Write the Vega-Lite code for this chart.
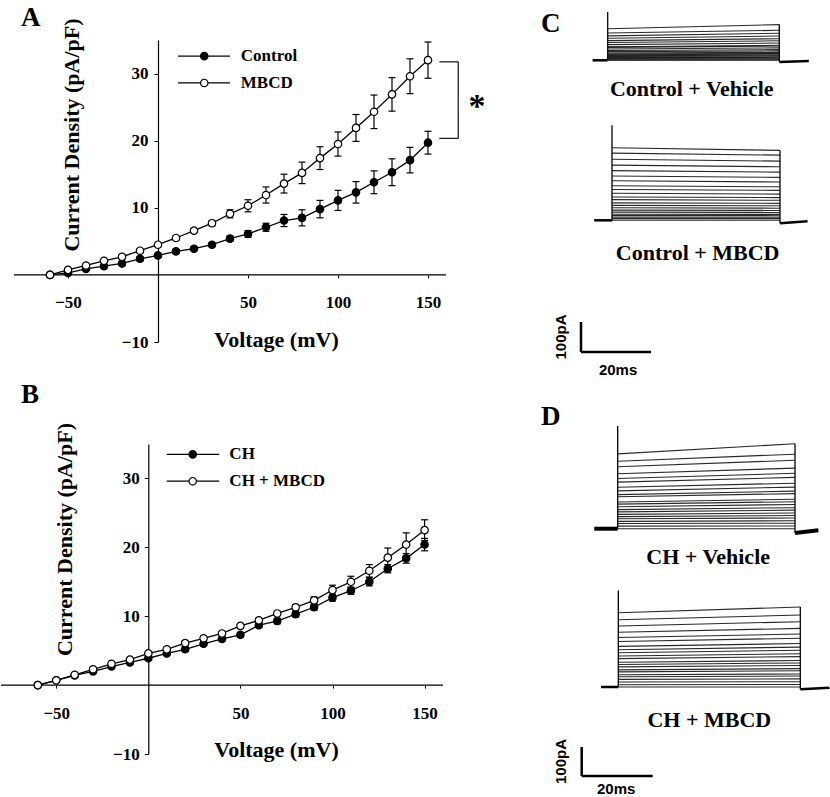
{
"$schema": "https://vega.github.io/schema/vega-lite/v6.json",
"padding": {"left": 0, "top": 3, "right": 0, "bottom": 0},
"background": "white",
"bounds": "flush",
"spacing": 540,
"config": {"view": {"stroke": null}, "axis": {"grid": false}},
"datasets": {
"iv": [
{"panel":"A","group":"Control","v":-60,"i":0,"se":0.1},{"panel":"A","group":"Control","v":-50,"i":0.3,"se":0.2},{"panel":"A","group":"Control","v":-40,"i":0.9,"se":0.2},{"panel":"A","group":"Control","v":-30,"i":1.3,"se":0.2},{"panel":"A","group":"Control","v":-20,"i":1.7,"se":0.3},{"panel":"A","group":"Control","v":-10,"i":2.4,"se":0.3},{"panel":"A","group":"Control","v":0,"i":2.9,"se":0.3},{"panel":"A","group":"Control","v":10,"i":3.5,"se":0.3},{"panel":"A","group":"Control","v":20,"i":3.9,"se":0.3},{"panel":"A","group":"Control","v":30,"i":4.5,"se":0.3},{"panel":"A","group":"Control","v":40,"i":5.4,"se":0.4},{"panel":"A","group":"Control","v":50,"i":6.1,"se":0.5},{"panel":"A","group":"Control","v":60,"i":7.1,"se":0.6},{"panel":"A","group":"Control","v":70,"i":8.1,"se":0.9},{"panel":"A","group":"Control","v":80,"i":8.5,"se":1.2},{"panel":"A","group":"Control","v":90,"i":9.8,"se":1.3},{"panel":"A","group":"Control","v":100,"i":11.1,"se":1.5},{"panel":"A","group":"Control","v":110,"i":12.3,"se":1.6},{"panel":"A","group":"Control","v":120,"i":13.8,"se":1.7},{"panel":"A","group":"Control","v":130,"i":15.3,"se":2.0},{"panel":"A","group":"Control","v":140,"i":17.1,"se":1.9},{"panel":"A","group":"Control","v":150,"i":19.7,"se":1.7},
{"panel":"A","group":"MBCD","v":-60,"i":0,"se":0.1},{"panel":"A","group":"MBCD","v":-50,"i":0.75,"se":0.2},{"panel":"A","group":"MBCD","v":-40,"i":1.4,"se":0.2},{"panel":"A","group":"MBCD","v":-30,"i":2.1,"se":0.2},{"panel":"A","group":"MBCD","v":-20,"i":2.7,"se":0.3},{"panel":"A","group":"MBCD","v":-10,"i":3.6,"se":0.3},{"panel":"A","group":"MBCD","v":0,"i":4.5,"se":0.3},{"panel":"A","group":"MBCD","v":10,"i":5.5,"se":0.3},{"panel":"A","group":"MBCD","v":20,"i":6.6,"se":0.3},{"panel":"A","group":"MBCD","v":30,"i":7.7,"se":0.4},{"panel":"A","group":"MBCD","v":40,"i":9.1,"se":0.6},{"panel":"A","group":"MBCD","v":50,"i":10.3,"se":0.9},{"panel":"A","group":"MBCD","v":60,"i":11.9,"se":1.2},{"panel":"A","group":"MBCD","v":70,"i":13.6,"se":1.4},{"panel":"A","group":"MBCD","v":80,"i":15.2,"se":1.6},{"panel":"A","group":"MBCD","v":90,"i":17.4,"se":1.7},{"panel":"A","group":"MBCD","v":100,"i":19.5,"se":1.8},{"panel":"A","group":"MBCD","v":110,"i":21.9,"se":2.0},{"panel":"A","group":"MBCD","v":120,"i":24.3,"se":2.5},{"panel":"A","group":"MBCD","v":130,"i":26.9,"se":2.5},{"panel":"A","group":"MBCD","v":140,"i":29.6,"se":2.6},{"panel":"A","group":"MBCD","v":150,"i":32.0,"se":2.7},
{"panel":"B","group":"CH","v":-60,"i":0,"se":0.1},{"panel":"B","group":"CH","v":-50,"i":0.7,"se":0.2},{"panel":"B","group":"CH","v":-40,"i":1.4,"se":0.2},{"panel":"B","group":"CH","v":-30,"i":2.0,"se":0.2},{"panel":"B","group":"CH","v":-20,"i":2.7,"se":0.2},{"panel":"B","group":"CH","v":-10,"i":3.3,"se":0.3},{"panel":"B","group":"CH","v":0,"i":3.9,"se":0.3},{"panel":"B","group":"CH","v":10,"i":4.6,"se":0.3},{"panel":"B","group":"CH","v":20,"i":5.2,"se":0.3},{"panel":"B","group":"CH","v":30,"i":6.0,"se":0.3},{"panel":"B","group":"CH","v":40,"i":6.7,"se":0.3},{"panel":"B","group":"CH","v":50,"i":7.3,"se":0.3},{"panel":"B","group":"CH","v":60,"i":8.7,"se":0.3},{"panel":"B","group":"CH","v":70,"i":9.3,"se":0.4},{"panel":"B","group":"CH","v":80,"i":10.3,"se":0.4},{"panel":"B","group":"CH","v":90,"i":11.3,"se":0.4},{"panel":"B","group":"CH","v":100,"i":12.7,"se":0.5},{"panel":"B","group":"CH","v":110,"i":13.7,"se":0.5},{"panel":"B","group":"CH","v":120,"i":15.0,"se":0.6},{"panel":"B","group":"CH","v":130,"i":16.9,"se":0.6},{"panel":"B","group":"CH","v":140,"i":18.4,"se":0.7},{"panel":"B","group":"CH","v":150,"i":20.4,"se":0.9},
{"panel":"B","group":"CH + MBCD","v":-60,"i":0,"se":0.1},{"panel":"B","group":"CH + MBCD","v":-50,"i":0.7,"se":0.2},{"panel":"B","group":"CH + MBCD","v":-40,"i":1.5,"se":0.2},{"panel":"B","group":"CH + MBCD","v":-30,"i":2.3,"se":0.2},{"panel":"B","group":"CH + MBCD","v":-20,"i":3.1,"se":0.2},{"panel":"B","group":"CH + MBCD","v":-10,"i":3.7,"se":0.2},{"panel":"B","group":"CH + MBCD","v":0,"i":4.6,"se":0.3},{"panel":"B","group":"CH + MBCD","v":10,"i":5.2,"se":0.3},{"panel":"B","group":"CH + MBCD","v":20,"i":6.1,"se":0.3},{"panel":"B","group":"CH + MBCD","v":30,"i":6.8,"se":0.3},{"panel":"B","group":"CH + MBCD","v":40,"i":7.5,"se":0.3},{"panel":"B","group":"CH + MBCD","v":50,"i":8.6,"se":0.3},{"panel":"B","group":"CH + MBCD","v":60,"i":9.4,"se":0.3},{"panel":"B","group":"CH + MBCD","v":70,"i":10.4,"se":0.3},{"panel":"B","group":"CH + MBCD","v":80,"i":11.3,"se":0.4},{"panel":"B","group":"CH + MBCD","v":90,"i":12.3,"se":0.5},{"panel":"B","group":"CH + MBCD","v":100,"i":13.8,"se":0.7},{"panel":"B","group":"CH + MBCD","v":110,"i":15.0,"se":0.8},{"panel":"B","group":"CH + MBCD","v":120,"i":16.6,"se":0.9},{"panel":"B","group":"CH + MBCD","v":130,"i":18.5,"se":1.4},{"panel":"B","group":"CH + MBCD","v":140,"i":20.4,"se":1.7},{"panel":"B","group":"CH + MBCD","v":150,"i":22.5,"se":1.5}
],
"traces": [
{"panel":"C1","v":-60,"i0":0,"i1":0},{"panel":"C1","v":-50,"i0":1.6,"i1":1.8},{"panel":"C1","v":-40,"i0":4.8,"i1":5.3},{"panel":"C1","v":-30,"i0":6.9,"i1":7.6},{"panel":"C1","v":-20,"i0":9.1,"i1":10},{"panel":"C1","v":-10,"i0":12.8,"i1":14},{"panel":"C1","v":0,"i0":15.5,"i1":17},{"panel":"C1","v":10,"i0":18.7,"i1":20.5},{"panel":"C1","v":20,"i0":20.8,"i1":23},{"panel":"C1","v":30,"i0":24,"i1":26.5},{"panel":"C1","v":40,"i0":28.8,"i1":31.5},{"panel":"C1","v":50,"i0":32.5,"i1":35.5},{"panel":"C1","v":60,"i0":37.8,"i1":41.5},{"panel":"C1","v":70,"i0":43.2,"i1":47.5},{"panel":"C1","v":80,"i0":45.3,"i1":50},{"panel":"C1","v":90,"i0":52.2,"i1":57.5},{"panel":"C1","v":100,"i0":59.2,"i1":65},{"panel":"C1","v":110,"i0":65.6,"i1":72},{"panel":"C1","v":120,"i0":73.6,"i1":81},{"panel":"C1","v":130,"i0":81.6,"i1":90},{"panel":"C1","v":140,"i0":91.2,"i1":100},{"panel":"C1","v":150,"i0":105,"i1":119},
{"panel":"C2","v":-60,"i0":0,"i1":0},{"panel":"C2","v":-50,"i0":5.7,"i1":5.5},{"panel":"C2","v":-40,"i0":10.6,"i1":10.3},{"panel":"C2","v":-30,"i0":15.9,"i1":15.4},{"panel":"C2","v":-20,"i0":20.4,"i1":19.8},{"panel":"C2","v":-10,"i0":27.2,"i1":26.4},{"panel":"C2","v":0,"i0":34,"i1":33},{"panel":"C2","v":10,"i0":41.6,"i1":40.4},{"panel":"C2","v":20,"i0":49.9,"i1":48.4},{"panel":"C2","v":30,"i0":58.2,"i1":56.5},{"panel":"C2","v":40,"i0":68.8,"i1":66.7},{"panel":"C2","v":50,"i0":77.9,"i1":75.6},{"panel":"C2","v":60,"i0":90,"i1":87.3},{"panel":"C2","v":70,"i0":102.9,"i1":99.8},{"panel":"C2","v":80,"i0":115,"i1":111.6},{"panel":"C2","v":90,"i0":131.6,"i1":127.7},{"panel":"C2","v":100,"i0":147.5,"i1":143},{"panel":"C2","v":110,"i0":165.6,"i1":160.6},{"panel":"C2","v":120,"i0":183.8,"i1":178.3},{"panel":"C2","v":130,"i0":203.4,"i1":197.3},{"panel":"C2","v":140,"i0":223.9,"i1":217.2},{"panel":"C2","v":150,"i0":242,"i1":233},
{"panel":"D1","v":-60,"i0":0,"i1":0},{"panel":"D1","v":-50,"i0":8.9,"i1":9.5},{"panel":"D1","v":-40,"i0":17.7,"i1":19},{"panel":"D1","v":-30,"i0":25.3,"i1":27.5},{"panel":"D1","v":-20,"i0":34.2,"i1":37},{"panel":"D1","v":-10,"i0":41.7,"i1":45.5},{"panel":"D1","v":0,"i0":49.3,"i1":54},{"panel":"D1","v":10,"i0":58.2,"i1":64},{"panel":"D1","v":20,"i0":65.8,"i1":72.5},{"panel":"D1","v":30,"i0":75.9,"i1":83.5},{"panel":"D1","v":40,"i0":84.7,"i1":93},{"panel":"D1","v":50,"i0":92.3,"i1":101.5},{"panel":"D1","v":60,"i0":110,"i1":121},{"panel":"D1","v":70,"i0":117.6,"i1":129.5},{"panel":"D1","v":80,"i0":130.3,"i1":143.5},{"panel":"D1","v":90,"i0":142.9,"i1":157},{"panel":"D1","v":100,"i0":160.6,"i1":177},{"panel":"D1","v":110,"i0":173.3,"i1":191},{"panel":"D1","v":120,"i0":189.7,"i1":209},{"panel":"D1","v":130,"i0":213.7,"i1":236},{"panel":"D1","v":140,"i0":232.7,"i1":257},{"panel":"D1","v":150,"i0":258,"i1":293},
{"panel":"D2","v":-60,"i0":0,"i1":0},{"panel":"D2","v":-50,"i0":8,"i1":8.5},{"panel":"D2","v":-40,"i0":17.1,"i1":18.3},{"panel":"D2","v":-30,"i0":26.2,"i1":28},{"panel":"D2","v":-20,"i0":35.3,"i1":37.8},{"panel":"D2","v":-10,"i0":42.1,"i1":45},{"panel":"D2","v":0,"i0":52.3,"i1":56},{"panel":"D2","v":10,"i0":59.2,"i1":63.3},{"panel":"D2","v":20,"i0":69.4,"i1":74.3},{"panel":"D2","v":30,"i0":77.4,"i1":82.8},{"panel":"D2","v":40,"i0":85.4,"i1":91.4},{"panel":"D2","v":50,"i0":97.9,"i1":104.8},{"panel":"D2","v":60,"i0":107,"i1":114.5},{"panel":"D2","v":70,"i0":118.3,"i1":126.6},{"panel":"D2","v":80,"i0":128.6,"i1":137.6},{"panel":"D2","v":90,"i0":140,"i1":149.8},{"panel":"D2","v":100,"i0":157,"i1":168},{"panel":"D2","v":110,"i0":170.7,"i1":182.6},{"panel":"D2","v":120,"i0":188.9,"i1":202.1},{"panel":"D2","v":130,"i0":210.5,"i1":225.2},{"panel":"D2","v":140,"i0":232.1,"i1":248.3},{"panel":"D2","v":150,"i0":256,"i1":276}
],
"edges": [
{"panel":"C1","kind":"hold","t":-4.4,"t2":0,"i":0,"i2":0},{"panel":"C1","kind":"on","t":0,"t2":0,"i":0,"i2":161},{"panel":"C1","kind":"off","t":50,"t2":50,"i":-6,"i2":119},{"panel":"C1","kind":"tail","t":50,"t2":58.6,"i":-6,"i2":-2},
{"panel":"C2","kind":"hold","t":-5.3,"t2":0,"i":0,"i2":0},{"panel":"C2","kind":"on","t":0,"t2":0,"i":0,"i2":317},{"panel":"C2","kind":"off","t":50,"t2":50,"i":-10,"i2":233},{"panel":"C2","kind":"tail","t":50,"t2":58.2,"i":-10,"i2":-3},
{"panel":"D1","kind":"hold","t":-6.6,"t2":0,"i":0,"i2":0},{"panel":"D1","kind":"on","t":0,"t2":0,"i":0,"i2":354},{"panel":"D1","kind":"off","t":50,"t2":50,"i":-15,"i2":293},{"panel":"D1","kind":"tail","t":50,"t2":56.6,"i":-15,"i2":-5},
{"panel":"D2","kind":"hold","t":-4.75,"t2":0,"i":0,"i2":0},{"panel":"D2","kind":"on","t":0,"t2":0,"i":0,"i2":333},{"panel":"D2","kind":"off","t":50,"t2":50,"i":-8,"i2":276},{"panel":"D2","kind":"tail","t":50,"t2":58,"i":-8,"i2":-3}
]
},
"hconcat": [
{"vconcat": [
{"width": 445, "height": 302,
"layer": [
{"data":{"name":"iv"},"transform":[{"filter":"datum.panel==='A'"}],
"mark":{"type":"line","color":"black","strokeWidth":1.3},
"encoding":{
"x":{"field":"v","type":"quantitative","title":"Voltage (mV)","scale":{"domain":[-87.22,160],"nice":false,"zero":false},
"axis":{"values":[-50,50,100,150],"offset":-67.1,"domain":false,"tickSize":3,"tickColor":"black","tickWidth":1,"labelPadding":17,"labelFlush":false,"labelFont":"Liberation Serif","labelFontWeight":"bold","labelFontSize":17,"labelColor":"black","titleFont":"Liberation Serif","titleFontWeight":"bold","titleFontSize":22,"titleColor":"black","titleX":275,"titleY":72,"titleBaseline":"alphabetic","titleAlign":"center","grid":false}},
"y":{"field":"i","type":"quantitative","title":"Current Density (pA/pF)","scale":{"domain":[-10,35],"nice":false,"zero":false},
"axis":{"values":[-10,10,20,30],"offset":-157,"domain":true,"domainColor":"black","domainWidth":1.2,"tickSize":4,"tickColor":"black","tickWidth":1,"labelPadding":6,"labelFlush":false,"labelFont":"Liberation Serif","labelFontWeight":"bold","labelFontSize":17,"labelColor":"black","titleFont":"Liberation Serif","titleFontWeight":"bold","titleFontSize":22,"titleColor":"black","titleX":-79.8,"titleY":94.5,"titleAngle":-90,"titleBaseline":"alphabetic","titleAlign":"center","grid":false}},
"detail":{"field":"group"}}},
{"data":{"values":[{}]},"mark":{"type":"rule","color":"black","strokeWidth":1.2},"encoding":{"x":{"datum":-80},"x2":{"datum":160},"y":{"datum":0}}},
{"data":{"name":"iv"},"transform":[{"filter":"datum.panel==='A'"}],
"mark":{"type":"errorbar","ticks":{"color":"black","strokeWidth":1.2,"opacity":1},"rule":{"color":"black","strokeWidth":1.2,"opacity":1},"size":7,"thickness":1.2,"color":"black","opacity":1},
"encoding":{"x":{"field":"v","type":"quantitative","title":"Voltage (mV)"},"y":{"field":"i","type":"quantitative","title":"Current Density (pA/pF)"},"yError":{"field":"se"}}},
{"data":{"name":"iv"},"transform":[{"filter":"datum.panel==='A'"}],
"mark":{"type":"point","shape":"circle","filled":true,"size":55,"stroke":"black","strokeWidth":1.2,"opacity":1},
"encoding":{"x":{"field":"v","type":"quantitative","title":"Voltage (mV)"},"y":{"field":"i","type":"quantitative","title":"Current Density (pA/pF)"},
"fill":{"field":"group","type":"nominal","scale":{"domain":["Control","MBCD","CH","CH + MBCD"],"range":["black","white","black","white"]},"legend":null}}},
{"data":{"values":[{}]},"mark":{"type":"rule","color":"black","strokeWidth":1.3},"encoding":{"x":{"datum":11.1},"x2":{"datum":40},"y":{"datum":32.6}}},
{"data":{"values":[{}]},"mark":{"type":"rule","color":"black","strokeWidth":1.3},"encoding":{"x":{"datum":11.1},"x2":{"datum":40},"y":{"datum":28.6}}},
{"data":{"values":[{}]},"mark":{"type":"point","shape":"circle","filled":true,"fill":"black","stroke":"black","strokeWidth":1.2,"size":55,"opacity":1},"encoding":{"x":{"datum":25.7},"y":{"datum":32.6}}},
{"data":{"values":[{}]},"mark":{"type":"point","shape":"circle","filled":true,"fill":"white","stroke":"black","strokeWidth":1.2,"size":55,"opacity":1},"encoding":{"x":{"datum":25.7},"y":{"datum":28.6}}},
{"data":{"values":[{}]},"mark":{"type":"text","text":"Control","font":"Liberation Serif","fontWeight":"bold","fontSize":17,"align":"left","baseline":"middle","color":"black"},"encoding":{"x":{"datum":46},"y":{"datum":32.6}}},
{"data":{"values":[{}]},"mark":{"type":"text","text":"MBCD","font":"Liberation Serif","fontWeight":"bold","fontSize":17,"align":"left","baseline":"middle","color":"black"},"encoding":{"x":{"datum":46},"y":{"datum":28.6}}},
{"data":{"values":[{}]},"mark":{"type":"rule","color":"#222","strokeWidth":1.3},"encoding":{"x":{"datum":156.3},"x2":{"datum":166.8},"y":{"datum":31.75}}},
{"data":{"values":[{}]},"mark":{"type":"rule","color":"#222","strokeWidth":1.3},"encoding":{"x":{"datum":156.3},"x2":{"datum":166.8},"y":{"datum":20.34}}},
{"data":{"values":[{}]},"mark":{"type":"rule","color":"#222","strokeWidth":1.3},"encoding":{"x":{"datum":166.8},"y":{"datum":20.34},"y2":{"datum":31.75}}},
{"data":{"values":[{}]},"mark":{"type":"text","text":"*","font":"Liberation Serif","fontWeight":"bold","fontSize":34,"align":"center","baseline":"alphabetic","color":"black"},"encoding":{"x":{"datum":177.2},"y":{"datum":23.5}}},
{"data":{"values":[{}]},"mark":{"type":"text","text":"A","font":"Liberation Serif","fontWeight":"bold","fontSize":27,"align":"left","baseline":"alphabetic","color":"black"},"encoding":{"x":{"datum":-76.1},"y":{"datum":37.1}}}
]},
{"width": 442, "height": 310,
"layer": [
{"data":{"name":"iv"},"transform":[{"filter":"datum.panel==='B'"}],
"mark":{"type":"line","color":"black","strokeWidth":1.3},
"encoding":{
"x":{"field":"v","type":"quantitative","title":"Voltage (mV)","scale":{"domain":[-80,160],"nice":false,"zero":false},
"axis":{"values":[-50,50,100,150],"offset":-68.9,"domain":false,"tickSize":3,"tickColor":"black","tickWidth":1,"labelPadding":17,"labelFlush":false,"labelFont":"Liberation Serif","labelFontWeight":"bold","labelFontSize":17,"labelColor":"black","titleFont":"Liberation Serif","titleFontWeight":"bold","titleFontSize":22,"titleColor":"black","titleX":275,"titleY":71,"titleBaseline":"alphabetic","titleAlign":"center","grid":false}},
"y":{"field":"i","type":"quantitative","title":"Current Density (pA/pF)","scale":{"domain":[-10,35],"nice":false,"zero":false},
"axis":{"values":[-10,10,20,30],"offset":-147.3,"domain":true,"domainColor":"black","domainWidth":1.2,"tickSize":4,"tickColor":"black","tickWidth":1,"labelPadding":5,"labelFlush":false,"labelFont":"Liberation Serif","labelFontWeight":"bold","labelFontSize":17,"labelColor":"black","titleFont":"Liberation Serif","titleFontWeight":"bold","titleFontSize":22,"titleColor":"black","titleX":-77.1,"titleY":95,"titleAngle":-90,"titleBaseline":"alphabetic","titleAlign":"center","grid":false}},
"detail":{"field":"group"}}},
{"data":{"values":[{}]},"mark":{"type":"rule","color":"black","strokeWidth":1.2},"encoding":{"x":{"datum":-80},"x2":{"datum":160},"y":{"datum":0}}},
{"data":{"name":"iv"},"transform":[{"filter":"datum.panel==='B'"}],
"mark":{"type":"errorbar","ticks":{"color":"black","strokeWidth":1.2,"opacity":1},"rule":{"color":"black","strokeWidth":1.2,"opacity":1},"size":7,"thickness":1.2,"color":"black","opacity":1},
"encoding":{"x":{"field":"v","type":"quantitative","title":"Voltage (mV)"},"y":{"field":"i","type":"quantitative","title":"Current Density (pA/pF)"},"yError":{"field":"se"}}},
{"data":{"name":"iv"},"transform":[{"filter":"datum.panel==='B'"}],
"mark":{"type":"point","shape":"circle","filled":true,"size":55,"stroke":"black","strokeWidth":1.2,"opacity":1},
"encoding":{"x":{"field":"v","type":"quantitative","title":"Voltage (mV)"},"y":{"field":"i","type":"quantitative","title":"Current Density (pA/pF)"},
"fill":{"field":"group","type":"nominal","scale":{"domain":["Control","MBCD","CH","CH + MBCD"],"range":["black","white","black","white"]},"legend":null}}},
{"data":{"values":[{}]},"mark":{"type":"rule","color":"black","strokeWidth":1.3},"encoding":{"x":{"datum":10},"x2":{"datum":38.5},"y":{"datum":33.5}}},
{"data":{"values":[{}]},"mark":{"type":"rule","color":"black","strokeWidth":1.3},"encoding":{"x":{"datum":10},"x2":{"datum":38.5},"y":{"datum":29.6}}},
{"data":{"values":[{}]},"mark":{"type":"point","shape":"circle","filled":true,"fill":"black","stroke":"black","strokeWidth":1.2,"size":55,"opacity":1},"encoding":{"x":{"datum":24.1},"y":{"datum":33.5}}},
{"data":{"values":[{}]},"mark":{"type":"point","shape":"circle","filled":true,"fill":"white","stroke":"black","strokeWidth":1.2,"size":55,"opacity":1},"encoding":{"x":{"datum":24.1},"y":{"datum":29.6}}},
{"data":{"values":[{}]},"mark":{"type":"text","text":"CH","font":"Liberation Serif","fontWeight":"bold","fontSize":17,"align":"left","baseline":"middle","color":"black"},"encoding":{"x":{"datum":44},"y":{"datum":33.5}}},
{"data":{"values":[{}]},"mark":{"type":"text","text":"CH + MBCD","font":"Liberation Serif","fontWeight":"bold","fontSize":17,"align":"left","baseline":"middle","color":"black"},"encoding":{"x":{"datum":44},"y":{"datum":29.6}}},
{"data":{"values":[{}]},"mark":{"type":"text","text":"B","font":"Liberation Serif","fontWeight":"bold","fontSize":27,"align":"left","baseline":"alphabetic","color":"black"},"encoding":{"x":{"datum":-69.1},"y":{"datum":40.9}}}
]}
], "spacing": 102, "bounds": "flush"},
{"vconcat": [
{"width": 290, "height": 62,
"layer": [
{"data":{"name":"edges"},"transform":[{"filter":"datum.panel==='C1' && (datum.kind==='on' || datum.kind==='off')"}],"mark":{"type":"rule","color":"black","strokeWidth":1.3},
"encoding":{"x":{"field":"t","type":"quantitative","scale":{"domain":[-19.43,65.06],"nice":false,"zero":false},"axis":null},"x2":{"field":"t2"},"y":{"field":"i","type":"quantitative","scale":{"domain":[-139,67.7],"nice":false,"zero":false},"axis":null},"y2":{"field":"i2"}}},
{"data":{"name":"edges"},"transform":[{"filter":"datum.panel==='C1' && (datum.kind==='hold' || datum.kind==='tail')"}],"mark":{"type":"rule","color":"black","strokeWidth":2.5},
"encoding":{"x":{"field":"t","type":"quantitative","axis":null},"x2":{"field":"t2"},"y":{"field":"i","type":"quantitative","axis":null},"y2":{"field":"i2"}}},
{"data":{"name":"traces"},"transform":[{"filter":"datum.panel==='C1'"}],"mark":{"type":"rule","color":"#111","strokeWidth":1.1,"opacity":0.9},
"encoding":{"x":{"datum":0,"axis":null},"x2":{"datum":50},"y":{"field":"i0","type":"quantitative","axis":null},"y2":{"field":"i1"}}},
{"data":{"values":[{}]},"mark":{"type":"text","text":"C","font":"Liberation Serif","fontWeight":"bold","fontSize":27,"align":"left","baseline":"alphabetic","color":"black"},"encoding":{"x":{"datum":-19.43,"axis":null},"y":{"datum":94.3,"axis":null}}},
{"data":{"values":[{}]},"mark":{"type":"text","text":"Control + Vehicle","font":"Liberation Serif","fontWeight":"bold","fontSize":22,"align":"center","baseline":"alphabetic","color":"black"},"encoding":{"x":{"datum":24.5,"axis":null},"y":{"datum":-119,"axis":null}}}
]},
{"width": 290, "height": 170,
"layer": [
{"data":{"name":"edges"},"transform":[{"filter":"datum.panel==='C2' && (datum.kind==='on' || datum.kind==='off')"}],"mark":{"type":"rule","color":"black","strokeWidth":1.3},
"encoding":{"x":{"field":"t","type":"quantitative","scale":{"domain":[-21.13,65.18],"nice":false,"zero":false},"axis":null},"x2":{"field":"t2"},"y":{"field":"i","type":"quantitative","scale":{"domain":[-172.3,394.3],"nice":false,"zero":false},"axis":null},"y2":{"field":"i2"}}},
{"data":{"name":"edges"},"transform":[{"filter":"datum.panel==='C2' && (datum.kind==='hold' || datum.kind==='tail')"}],"mark":{"type":"rule","color":"black","strokeWidth":2.5},
"encoding":{"x":{"field":"t","type":"quantitative","axis":null},"x2":{"field":"t2"},"y":{"field":"i","type":"quantitative","axis":null},"y2":{"field":"i2"}}},
{"data":{"name":"traces"},"transform":[{"filter":"datum.panel==='C2'"}],"mark":{"type":"rule","color":"#111","strokeWidth":1.1,"opacity":0.9},
"encoding":{"x":{"datum":0,"axis":null},"x2":{"datum":50},"y":{"field":"i0","type":"quantitative","axis":null},"y2":{"field":"i1"}}},
{"data":{"values":[{}]},"mark":{"type":"text","text":"Control + MBCD","font":"Liberation Serif","fontWeight":"bold","fontSize":22,"align":"center","baseline":"alphabetic","color":"black"},"encoding":{"x":{"datum":25.5,"axis":null},"y":{"datum":-133.3,"axis":null}}}
]},
{"width": 290, "height": 110,
"layer": [
{"data":{"values":[{}]},"mark":{"type":"rule","color":"black","strokeWidth":2.5},"encoding":{"x":{"datum":0,"scale":{"domain":[-11.43,71.43],"nice":false,"zero":false},"axis":null},"x2":{"datum":20},"y":{"datum":0,"scale":{"domain":[-100,266.7],"nice":false,"zero":false},"axis":null}}},
{"data":{"values":[{}]},"mark":{"type":"rule","color":"black","strokeWidth":2.5},"encoding":{"x":{"datum":0,"axis":null},"y":{"datum":0,"axis":null},"y2":{"datum":100}}},
{"data":{"values":[{}]},"mark":{"type":"text","text":"20ms","font":"Liberation Sans","fontWeight":"bold","fontSize":15,"align":"center","baseline":"middle","color":"black"},"encoding":{"x":{"datum":10.6,"axis":null},"y":{"datum":-60,"axis":null}}},
{"data":{"values":[{}]},"mark":{"type":"text","text":"100pA","font":"Liberation Sans","fontWeight":"bold","fontSize":15,"align":"center","baseline":"middle","angle":270,"color":"black"},"encoding":{"x":{"datum":-5.7,"axis":null},"y":{"datum":50,"axis":null}}}
]},
{"width": 290, "height": 190,
"layer": [
{"data":{"name":"edges"},"transform":[{"filter":"datum.panel==='D1' && (datum.kind==='on' || datum.kind==='off')"}],"mark":{"type":"rule","color":"black","strokeWidth":1.3},
"encoding":{"x":{"field":"t","type":"quantitative","scale":{"domain":[-21.63,60.15],"nice":false,"zero":false},"axis":null},"x2":{"field":"t2"},"y":{"field":"i","type":"quantitative","scale":{"domain":[-149.3,505.9],"nice":false,"zero":false},"axis":null},"y2":{"field":"i2"}}},
{"data":{"name":"edges"},"transform":[{"filter":"datum.panel==='D1' && (datum.kind==='hold' || datum.kind==='tail')"}],"mark":{"type":"rule","color":"black","strokeWidth":4},
"encoding":{"x":{"field":"t","type":"quantitative","axis":null},"x2":{"field":"t2"},"y":{"field":"i","type":"quantitative","axis":null},"y2":{"field":"i2"}}},
{"data":{"name":"traces"},"transform":[{"filter":"datum.panel==='D1'"}],"mark":{"type":"rule","color":"#111","strokeWidth":1.1,"opacity":0.9},
"encoding":{"x":{"datum":0,"axis":null},"x2":{"datum":50},"y":{"field":"i0","type":"quantitative","axis":null},"y2":{"field":"i1"}}},
{"data":{"values":[{}]},"mark":{"type":"text","text":"D","font":"Liberation Serif","fontWeight":"bold","fontSize":27,"align":"left","baseline":"alphabetic","color":"black"},"encoding":{"x":{"datum":-21.63,"axis":null},"y":{"datum":357.6,"axis":null}}},
{"data":{"values":[{}]},"mark":{"type":"text","text":"CH + Vehicle","font":"Liberation Serif","fontWeight":"bold","fontSize":22,"align":"center","baseline":"alphabetic","color":"black"},"encoding":{"x":{"datum":25.5,"axis":null},"y":{"datum":-120.7,"axis":null}}}
]},
{"width": 290, "height": 160,
"layer": [
{"data":{"name":"edges"},"transform":[{"filter":"datum.panel==='D2' && (datum.kind==='on' || datum.kind==='off')"}],"mark":{"type":"rule","color":"black","strokeWidth":1.3},
"encoding":{"x":{"field":"t","type":"quantitative","scale":{"domain":[-21.24,58.43],"nice":false,"zero":false},"axis":null},"x2":{"field":"t2"},"y":{"field":"i","type":"quantitative","scale":{"domain":[-155.2,396.6],"nice":false,"zero":false},"axis":null},"y2":{"field":"i2"}}},
{"data":{"name":"edges"},"transform":[{"filter":"datum.panel==='D2' && (datum.kind==='hold' || datum.kind==='tail')"}],"mark":{"type":"rule","color":"black","strokeWidth":2.5},
"encoding":{"x":{"field":"t","type":"quantitative","axis":null},"x2":{"field":"t2"},"y":{"field":"i","type":"quantitative","axis":null},"y2":{"field":"i2"}}},
{"data":{"name":"traces"},"transform":[{"filter":"datum.panel==='D2'"}],"mark":{"type":"rule","color":"#111","strokeWidth":1.1,"opacity":0.9},
"encoding":{"x":{"datum":0,"axis":null},"x2":{"datum":50},"y":{"field":"i0","type":"quantitative","axis":null},"y2":{"field":"i1"}}},
{"data":{"values":[{}]},"mark":{"type":"text","text":"CH + MBCD","font":"Liberation Serif","fontWeight":"bold","fontSize":22,"align":"center","baseline":"alphabetic","color":"black"},"encoding":{"x":{"datum":25,"axis":null},"y":{"datum":-137.9,"axis":null}}}
]},
{"width": 290, "height": 67,
"layer": [
{"data":{"values":[{}]},"mark":{"type":"rule","color":"black","strokeWidth":2.5},"encoding":{"x":{"datum":0,"scale":{"domain":[-11.46,70.2],"nice":false,"zero":false},"axis":null},"x2":{"datum":20},"y":{"datum":0,"scale":{"domain":[-79.3,151.7],"nice":false,"zero":false},"axis":null}}},
{"data":{"values":[{}]},"mark":{"type":"rule","color":"black","strokeWidth":2.5},"encoding":{"x":{"datum":0,"axis":null},"y":{"datum":0,"axis":null},"y2":{"datum":100}}},
{"data":{"values":[{}]},"mark":{"type":"text","text":"20ms","font":"Liberation Sans","fontWeight":"bold","fontSize":15,"align":"center","baseline":"middle","color":"black"},"encoding":{"x":{"datum":9.7,"axis":null},"y":{"datum":-46,"axis":null}}},
{"data":{"values":[{}]},"mark":{"type":"text","text":"100pA","font":"Liberation Sans","fontWeight":"bold","fontSize":15,"align":"center","baseline":"middle","angle":270,"color":"black"},"encoding":{"x":{"datum":-5.8,"axis":null},"y":{"datum":50,"axis":null}}}
]}
], "spacing": 0, "bounds": "flush"}
]
}
